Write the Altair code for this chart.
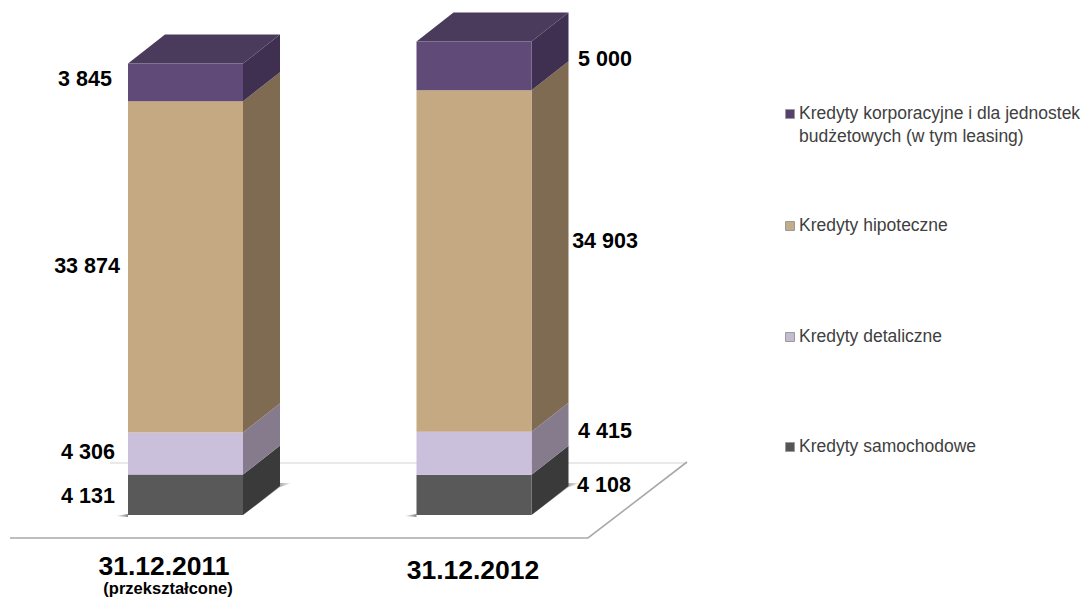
import altair as alt
import pandas as pd

# ---- data ----
dates = ["31.12.2011", "31.12.2012"]
series = ["Kredyty samochodowe", "Kredyty detaliczne", "Kredyty hipoteczne",
          "Kredyty korporacyjne i dla jednostek\nbudżetowych (w tym leasing)"]
v2011 = [4131, 4306, 33874, 3845]
v2012 = [4108, 4415, 34903, 5000]
note = "(przekształcone)"

# ---- styling / layout ----
front = ["#595959", "#cbc0dc", "#c5a982", "#5f4a78"]
side = ["#3a3a3a", "#857b8d", "#7f6b52", "#3f2f50"]
top_col = "#4a3a5c"
swatch = ["#555555", "#c4bcd2", "#c2ad8a", "#54416c"]
W, H, M = 1074, 589, 8
BASE = 515          # picture row of the zero line
K = 0.00978         # pixels per unit
DX, DY = 37, 29 / K  # depth of the bars
lefts = [128, 416.5]
BW = 115


def px(x):
    return x - M


def val(py):
    return (BASE - py) / K


x_s = alt.Scale(domain=[0, W], range=[0, W], nice=False, zero=False)
y_s = alt.Scale(domain=[val(M + H), val(M)], range=[H, 0], nice=False, zero=False)
X = alt.X("x:Q", scale=x_s, axis=None)
Y = alt.Y("y:Q", scale=y_s, axis=None)
Y2 = alt.Y2("y2:Q")
C = alt.Color("c:N", scale=None)

fronts, sides, tops, labels, shadows = [], [], [], [], []
lab_x = [(88, 88, 87, 85), (604, 605, 605, 605)]
lab_shift = [(-2, 1, 0, 2), (9, 21, 19, 6)]
for b, (vals, L) in enumerate(zip([v2011, v2012], lefts)):
    base = 0
    R = L + BW
    for i, v in enumerate(vals):
        t = base + v
        fronts.append(dict(x=px(L), x2=px(R), y=base, y2=t, c=front[i]))
        sides += [dict(x=px(R), y=base, y2=t, c=side[i], g=f"{b}-{i}"),
                  dict(x=px(R + DX), y=base + DY, y2=t + DY, c=side[i], g=f"{b}-{i}")]
        labels.append(dict(x=px(lab_x[b][i]),
                           y=base + v / 2 + val(BASE - lab_shift[b][i]),
                           t=f"{v:,}".replace(",", " ")))
        base = t
    tops += [dict(x=px(L), y=base, y2=base, g=b),
             dict(x=px(L + DX), y=base, y2=base + DY, g=b),
             dict(x=px(R), y=base, y2=base + DY, g=b),
             dict(x=px(R + DX), y=base + DY, y2=base + DY, g=b)]
    shadows += [dict(x=px(L - 13), y=val(516), y2=val(516), g=f"{b}a"),
                dict(x=px(L), y=val(514), y2=val(517), g=f"{b}a")]

shadow_r = []
for b, L in enumerate(lefts):
    R = L + BW
    shadow_r += [dict(x=px(R), y=val(515), y2=val(515), g=b),
                 dict(x=px(R + DX), y=val(487), y2=val(483), g=b),
                 dict(x=px(R + DX + 12), y=val(483), y2=val(483), g=b)]

floor_front = pd.DataFrame(dict(x=[px(10), px(588), px(687)],
                                y=[val(538), val(538), val(462)]))
floor_back = pd.DataFrame(dict(x=[px(110), px(687)], y=[val(463), val(463)]))

fade_l = alt.Gradient(gradient="linear", x1=0, x2=1, y1=0, y2=0,
                      stops=[alt.GradientStop(offset=0, color="#ffffff"),
                             alt.GradientStop(offset=1, color="#888888")])
fade_r = alt.Gradient(gradient="linear", x1=0, x2=1, y1=0, y2=0,
                      stops=[alt.GradientStop(offset=0, color="#777777"),
                             alt.GradientStop(offset=0.75, color="#aaaaaa"),
                             alt.GradientStop(offset=1, color="#ffffff")])

layers = [
    alt.Chart(floor_back).mark_line(color="#e2e2e2", strokeWidth=1.5).encode(x=X, y=Y),
    alt.Chart(floor_front).mark_line(color="#a9a9a9", strokeWidth=1.6).encode(x=X, y=Y),
    alt.Chart(pd.DataFrame(shadows)).mark_area(color=fade_l, orient="vertical").encode(
        x=X, y=Y, y2=Y2, detail="g:N"),
    alt.Chart(pd.DataFrame(shadow_r)).mark_area(color=fade_r, orient="vertical").encode(
        x=X, y=Y, y2=Y2, detail="g:N"),
    alt.Chart(pd.DataFrame(sides)).mark_area(orient="vertical").encode(
        x=X, y=Y, y2=Y2, color=C, detail="g:N"),
    alt.Chart(pd.DataFrame(tops)).mark_area(orient="vertical", color=top_col).encode(
        x=X, y=Y, y2=Y2, detail="g:N"),
    alt.Chart(pd.DataFrame(fronts)).mark_rect().encode(
        x=X, x2=alt.X2("x2:Q"), y=Y, y2=Y2, color=C),
    alt.Chart(pd.DataFrame(labels)).mark_text(
        font="Liberation Sans", fontWeight="bold", fontSize=21.5, color="#000000"
    ).encode(x=X, y=Y, text="t:N"),
    alt.Chart(pd.DataFrame(dict(x=[px(164), px(473)], y=[val(566.5), val(571)], t=dates))).mark_text(
        font="Liberation Sans", fontWeight="bold", fontSize=26.5, color="#000000"
    ).encode(x=X, y=Y, text="t:N"),
    alt.Chart(pd.DataFrame(dict(x=[px(168)], y=[val(589)], t=[note]))).mark_text(
        font="Liberation Sans", fontWeight="bold", fontSize=16.5, color="#000000"
    ).encode(x=X, y=Y, text="t:N"),
]

leg_rows = [447, 337, 226, 114]
leg = pd.DataFrame(dict(x=[px(790)] * 4, y=[val(r) for r in leg_rows], c=swatch))
layers += [
    alt.Chart(leg).mark_point(shape="square", size=80, filled=True, opacity=1,
                              stroke="#9a9a9a", strokeWidth=1).encode(x=X, y=Y, fill=alt.Fill("c:N", scale=None)),
]
rows = []
for s, r in zip(series, leg_rows):
    for j, part in enumerate(s.split("\n")):
        rows.append(dict(x=px(799), y=val(r + j * 23), t=part))
layers.append(alt.Chart(pd.DataFrame(rows)).mark_text(
    font="Liberation Sans", fontSize=17.5, color="#404040", align="left"
).encode(x=X, y=Y, text="t:N"))

chart = alt.layer(*layers).properties(
    width=W, height=H, padding=0,
    autosize=alt.AutoSizeParams(type="none"),
    background="#ffffff",
).configure_view(stroke=None)
chart.save("out.html", embed_options={"renderer": "svg", "actions": False})
